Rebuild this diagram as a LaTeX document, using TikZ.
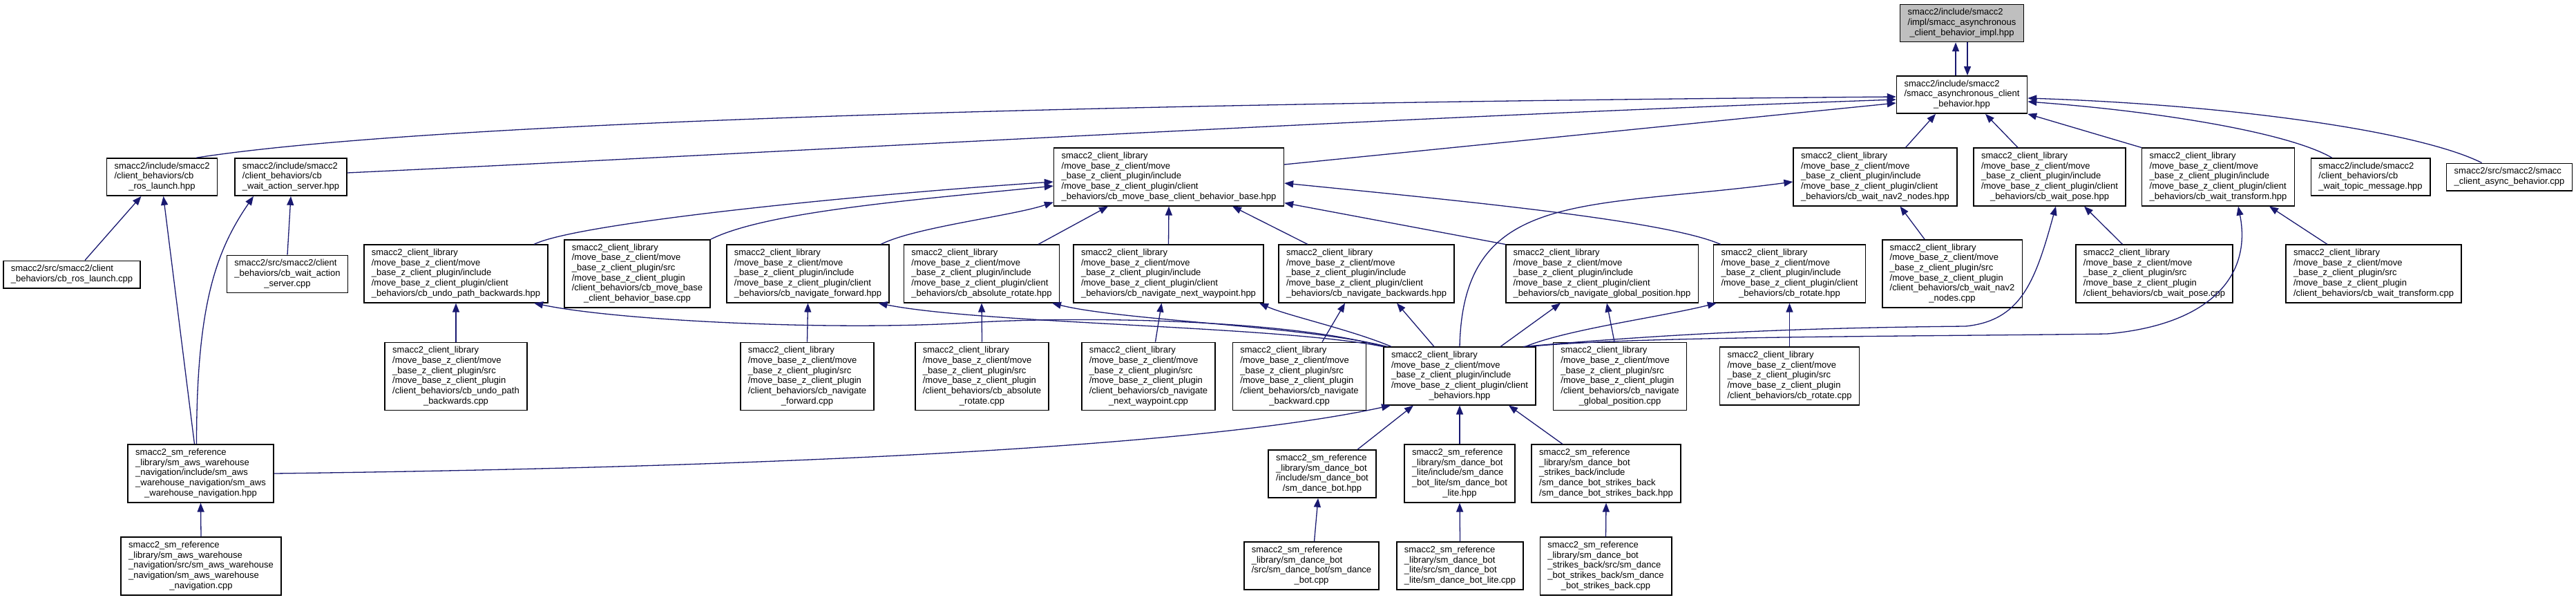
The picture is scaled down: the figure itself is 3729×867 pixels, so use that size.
\documentclass[tikz,border=0pt]{standalone}
\usepackage{fontspec}
\setmainfont{Liberation Sans}
\usetikzlibrary{arrows.meta}
\definecolor{EdgeClr}{HTML}{191970}
\definecolor{RootClr}{HTML}{BFBFBF}
\newcommand{\lbl}[2]{\begin{tabular}{@{}l@{}}#1\\\multicolumn{1}{@{}c@{}}{#2}\end{tabular}}
\catcode`\_=12
\newcommand{\incpath}{smacc2_client_library\\/move_base_z_client/move\\_base_z_client_plugin/include\\/move_base_z_client_plugin/client}
\newcommand{\srcpath}{smacc2_client_library\\/move_base_z_client/move\\_base_z_client_plugin/src\\/move_base_z_client_plugin}

\begin{document}
\begin{tikzpicture}[x=0.5pt,y=-0.5pt,
  box/.style={draw=black,line width=0.8pt,fill=white,inner xsep=5.5pt,inner ysep=2.5pt,font=\fontsize{6.5pt}{7.35pt}\selectfont},
  dep/.style={draw=EdgeClr,line width=0.65pt,-{Triangle[length=6.5pt,width=5pt]}}]
\useasboundingbox (0,0) rectangle (3729,867);

\node[box,fill=RootClr] (impl) at (2840,33.5) {\lbl{smacc2/include/smacc2\\/impl/smacc_asynchronous}{_client_behavior_impl.hpp}};
\node[box] (acb) at (2840,137) {\lbl{smacc2/include/smacc2\\/smacc_asynchronous_client}{_behavior.hpp}};

\node[box] (rlh) at (234.5,256) {\lbl{smacc2/include/smacc2\\/client_behaviors/cb}{_ros_launch.hpp}};
\node[box] (wash) at (421,256) {\lbl{smacc2/include/smacc2\\/client_behaviors/cb}{_wait_action_server.hpp}};
\node[box] (mbb) at (1692,256) {\lbl{\incpath}{_behaviors/cb_move_base_client_behavior_base.hpp}};
\node[box] (wn2h) at (2714.5,256) {\lbl{\incpath}{_behaviors/cb_wait_nav2_nodes.hpp}};
\node[box] (wph) at (2967,256) {\lbl{\incpath}{_behaviors/cb_wait_pose.hpp}};
\node[box] (wth) at (3211,256) {\lbl{\incpath}{_behaviors/cb_wait_transform.hpp}};
\node[box] (wtmh) at (3431.5,256) {\lbl{smacc2/include/smacc2\\/client_behaviors/cb}{_wait_topic_message.hpp}};
\node[box] (acbc) at (3632.5,256) {\lbl{smacc2/src/smacc2/smacc}{_client_async_behavior.cpp}};

\node[box] (rlc) at (104,397) {\lbl{smacc2/src/smacc2/client}{_behaviors/cb_ros_launch.cpp}};
\node[box] (wasc) at (416,396.5) {\lbl{smacc2/src/smacc2/client\\_behaviors/cb_wait_action}{_server.cpp}};
\node[box] (uph) at (660,396) {\lbl{\incpath}{_behaviors/cb_undo_path_backwards.hpp}};
\node[box] (mbbc) at (922.5,396) {\lbl{\srcpath\\/client_behaviors/cb_move_base}{_client_behavior_base.cpp}};
\node[box] (nfh) at (1169.5,396) {\lbl{\incpath}{_behaviors/cb_navigate_forward.hpp}};
\node[box] (arh) at (1421,396) {\lbl{\incpath}{_behaviors/cb_absolute_rotate.hpp}};
\node[box] (nnwh) at (1691.5,396) {\lbl{\incpath}{_behaviors/cb_navigate_next_waypoint.hpp}};
\node[box] (nbh) at (1978,396) {\lbl{\incpath}{_behaviors/cb_navigate_backwards.hpp}};
\node[box] (ngph) at (2319,396) {\lbl{\incpath}{_behaviors/cb_navigate_global_position.hpp}};
\node[box] (roth) at (2590.5,396) {\lbl{\incpath}{_behaviors/cb_rotate.hpp}};
\node[box] (wn2c) at (2826,396) {\lbl{\srcpath\\/client_behaviors/cb_wait_nav2}{_nodes.cpp}};
\node[box] (wpc) at (3118.5,396) {\lbl{\srcpath}{/client_behaviors/cb_wait_pose.cpp}};
\node[box] (wtc) at (3436,396) {\lbl{\srcpath}{/client_behaviors/cb_wait_transform.cpp}};

\node[box] (upc) at (660,544.5) {\lbl{\srcpath\\/client_behaviors/cb_undo_path}{_backwards.cpp}};
\node[box] (nfc) at (1168.5,544.5) {\lbl{\srcpath\\/client_behaviors/cb_navigate}{_forward.cpp}};
\node[box] (arc) at (1421.5,544.5) {\lbl{\srcpath\\/client_behaviors/cb_absolute}{_rotate.cpp}};
\node[box] (nnwc) at (1662.5,544.5) {\lbl{\srcpath\\/client_behaviors/cb_navigate}{_next_waypoint.cpp}};
\node[box] (nbc) at (1881,544.5) {\lbl{\srcpath\\/client_behaviors/cb_navigate}{_backward.cpp}};
\node[box] (cbh) at (2113,544) {\lbl{\incpath}{_behaviors.hpp}};
\node[box] (ngpc) at (2345,544.5) {\lbl{\srcpath\\/client_behaviors/cb_navigate}{_global_position.cpp}};
\node[box] (rotc) at (2590.5,544) {\lbl{\srcpath}{/client_behaviors/cb_rotate.cpp}};

\node[box] (awsh) at (290.5,685) {\lbl{smacc2_sm_reference\\_library/sm_aws_warehouse\\_navigation/include/sm_aws\\_warehouse_navigation/sm_aws}{_warehouse_navigation.hpp}};
\node[box] (dbh) at (1914,685.5) {\lbl{smacc2_sm_reference\\_library/sm_dance_bot\\/include/sm_dance_bot}{/sm_dance_bot.hpp}};
\node[box] (dblh) at (2113,685) {\lbl{smacc2_sm_reference\\_library/sm_dance_bot\\_lite/include/sm_dance\\_bot_lite/sm_dance_bot}{_lite.hpp}};
\node[box] (dbsh) at (2325,685) {\lbl{smacc2_sm_reference\\_library/sm_dance_bot\\_strikes_back/include\\/sm_dance_bot_strikes_back}{/sm_dance_bot_strikes_back.hpp}};

\node[box] (awsc) at (291,819) {\lbl{smacc2_sm_reference\\_library/sm_aws_warehouse\\_navigation/src/sm_aws_warehouse\\_navigation/sm_aws_warehouse}{_navigation.cpp}};
\node[box] (dbc) at (1898.5,818.5) {\lbl{smacc2_sm_reference\\_library/sm_dance_bot\\/src/sm_dance_bot/sm_dance}{_bot.cpp}};
\node[box] (dblc) at (2113.5,818.5) {\lbl{smacc2_sm_reference\\_library/sm_dance_bot\\_lite/src/sm_dance_bot}{_lite/sm_dance_bot_lite.cpp}};
\node[box] (dbsc) at (2324.5,819) {\lbl{smacc2_sm_reference\\_library/sm_dance_bot\\_strikes_back/src/sm_dance\\_bot_strikes_back/sm_dance}{_bot_strikes_back.cpp}};

\draw[dep] ([xshift=-4.5pt]acb.north) -- ([xshift=-4.5pt]impl.south);
\draw[dep] ([xshift=4pt]impl.south) -- ([xshift=4pt]acb.north);

\draw[dep] ([xshift=25pt]rlh.north) .. controls +(315,-49) and +(-1245,10) .. ([yshift=-1.5pt]acb.west);
\draw[dep] ([yshift=3pt]wash.east) .. controls +(600,-28) and +(-745,26) .. ([yshift=-3.5pt]acb.west);
\draw[dep] ([yshift=9pt]mbb.east) -- ([yshift=-6pt]acb.west);
\draw[dep] ([xshift=22pt]wn2h.north) -- ([xshift=-19pt]acb.south);
\draw[dep] ([xshift=-23pt]wph.north) -- ([xshift=17pt]acb.south);
\draw[dep] (wth.north west) -- (acb.south east);
\draw[dep] ([xshift=-28pt]wtmh.north) .. controls +(-60,-35) and +(200,15) .. ([yshift=-5pt]acb.east);
\draw[dep] ([xshift=-20pt]acbc.north) .. controls +(-90,-45) and +(300,10) .. ([yshift=-2.5pt]acb.east);

\draw[dep] ([xshift=9.5pt]rlc.north) -- ([xshift=-15pt]rlh.south);
\draw[dep] ([xshift=-4.5pt]awsh.north) -- ([xshift=1pt]rlh.south);
\draw[dep] (wasc.north) -- (wash.south);
\draw[dep] ([xshift=-3pt]awsh.north) .. controls +(0,-200) and +(-55,80) .. ([xshift=-27pt]wash.south);

\draw[dep] ([xshift=56.5pt]uph.north) .. controls +(60,-30) and +(-300,20) .. ([yshift=-3.5pt]mbb.west);
\draw[dep] (mbbc.north east) .. controls +(80,-40) and +(-200,20) .. ([yshift=-6.5pt]mbb.west);
\draw[dep] ([xshift=52.75pt]nfh.north) .. controls +(50,-25) and +(-60,20) .. ([yshift=3pt]mbb.south west);
\draw[dep] ([xshift=41pt]arh.north) -- ([xshift=-44pt]mbb.south);
\draw[dep] (nnwh.north) -- (mbb.south);
\draw[dep] ([xshift=-42.5pt]nbh.north) -- ([xshift=46pt]mbb.south);
\draw[dep] (ngph.north west) -- ([yshift=2.5pt]mbb.south east);
\draw[dep] ([xshift=5.5pt]roth.north west) .. controls +(-80,-35) and +(250,25) .. ([yshift=-4.5pt]mbb.east);

\draw[dep] ([xshift=-20pt]wn2c.north) -- ([xshift=18pt]wn2h.south);
\draw[dep] (cbh.north) .. controls +(5,-230) and +(-300,40) .. ([yshift=-3.5pt]wn2h.west);
\draw[dep] ([xshift=-23pt]wpc.north) -- ([xshift=25pt]wph.south);
\draw[dep] ([xshift=46pt]cbh.north) .. controls +(250,-22) and +(-200,2) .. (2845,472) .. controls +(80,-8) and +(-30,110) .. ([xshift=4.5pt]wph.south);
\draw[dep] ([xshift=-33.5pt]wtc.north) -- ([xshift=37pt]wth.south);
\draw[dep] ([xshift=50pt]cbh.north) .. controls +(150,-15) and +(-300,4) .. (3050,483) .. controls +(150,-13) and +(20,100) .. ([xshift=14.5pt]wth.south);

\draw[dep] (cbh.north west) .. controls +(-120,-35) and +(200,-12) .. (1400,467) .. controls +(-200,12) and +(120,25) .. ([xshift=56.5pt]uph.south);
\draw[dep] (cbh.north west) .. controls +(-150,-30) and +(150,30) .. ([xshift=51pt]nfh.south);
\draw[dep] ([xshift=3pt]cbh.north west) .. controls +(-120,-30) and +(100,25) .. ([xshift=51pt]arh.south);
\draw[dep] ([xshift=6pt]cbh.north west) .. controls +(-60,-25) and +(40,18) .. ([xshift=65.75pt]nnwh.south);
\draw[dep] ([xshift=-18.5pt]cbh.north) -- ([xshift=22pt]nbh.south);
\draw[dep] ([xshift=29.5pt]cbh.north) -- ([xshift=-30pt]ngph.south);
\draw[dep] ([xshift=47.5pt]cbh.north) .. controls +(60,-25) and +(-80,20) .. ([xshift=2.5pt]roth.south west);

\draw[dep] (upc.north) -- (uph.south);
\draw[dep] (nfc.north) -- (nfh.south);
\draw[dep] (arc.north) -- (arh.south);
\draw[dep] ([xshift=5pt]nnwc.north) -- ([xshift=-5pt]nnwh.south);
\draw[dep] ([xshift=16.5pt]nbc.north) -- ([xshift=-15.5pt]nbh.south);
\draw[dep] ([xshift=-4pt]ngpc.north) -- ([xshift=3.5pt]ngph.south);
\draw[dep] (rotc.north) -- (roth.south);

\draw[dep] (awsh.east) .. controls +(800,-10) and +(-250,55) .. ([xshift=-50pt]cbh.south);
\draw[dep] ([xshift=25.5pt]dbh.north) -- ([xshift=-33.5pt]cbh.south);
\draw[dep] (dblh.north) -- (cbh.south);
\draw[dep] ([xshift=-31.5pt]dbsh.north) -- ([xshift=35.5pt]cbh.south);

\draw[dep] (awsc.north) -- (awsh.south);
\draw[dep] ([xshift=2pt]dbc.north) -- ([xshift=-3pt]dbh.south);
\draw[dep] (dblc.north) -- (dblh.south);
\draw[dep] (dbsc.north) -- (dbsh.south);

\end{tikzpicture}
\end{document}
